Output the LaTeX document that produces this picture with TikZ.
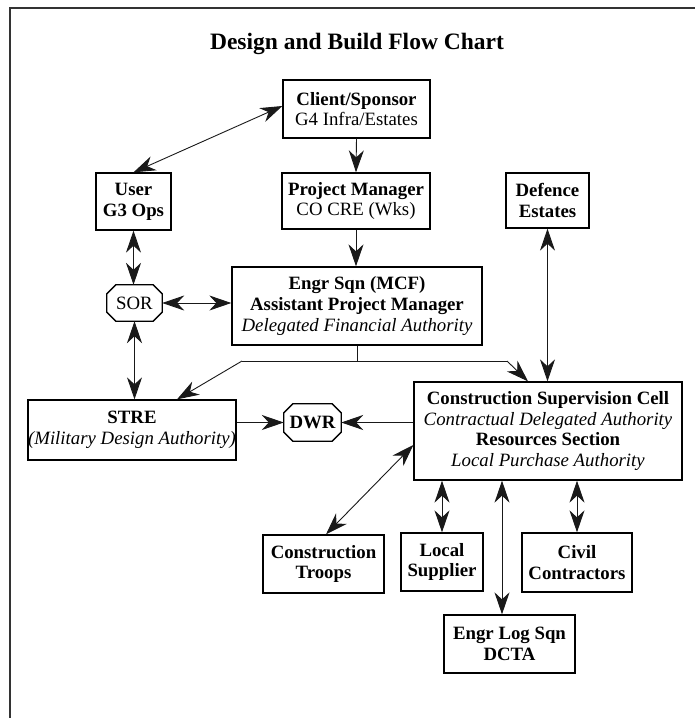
\documentclass[tikz,border=0pt]{standalone}
\usepackage{fontspec}
\setmainfont{Liberation Serif}
\usetikzlibrary{arrows.meta}
\newcommand\octframe[1]{%
  \draw[octline] ([xshift=9pt]#1.north west) -- ([xshift=-9pt]#1.north east)
    -- ([yshift=-9pt]#1.north east) -- ([yshift=9pt]#1.south east)
    -- ([xshift=-9pt]#1.south east) -- ([xshift=9pt]#1.south west)
    -- ([yshift=9pt]#1.south west) -- ([yshift=-9pt]#1.north west) -- cycle;}
\begin{document}
\begin{tikzpicture}[x=1pt,y=-1pt,
  txt/.style={font=\fontsize{18.8}{20.8}\selectfont},
  box/.style={txt, draw=black, line width=1.3pt, align=center, inner sep=0pt},
  oct/.style={txt, inner sep=0pt},
  octline/.style={draw=black, line width=1.3pt},
  conn/.style={draw=black!90, line width=0.9pt},
  headtip/.tip={Stealth[length=22pt,width=15pt,inset=7pt]},
  arr/.style={conn, -headtip},
  darr/.style={conn, headtip-headtip},
  frame/.style={draw=black!80, line width=1.3pt}
]
\useasboundingbox (0,0) rectangle (695,718);
\draw[frame] (10,718) -- (10,8) -- (695,8);

\node[font=\bfseries\fontsize{23.5}{26}\selectfont] (title) at (357,44) {Design and Build Flow Chart};

\node[box, minimum width=147pt, minimum height=58pt] (client) at (356.5,109) {\textbf{Client/Sponsor}\\G4 Infra/Estates};
\node[box, minimum width=75pt, minimum height=57pt] (user) at (133.5,201.5) {\textbf{User}\\\textbf{G3 Ops}};
\node[box, minimum width=148pt, minimum height=56pt] (pm) at (356,201) {\textbf{Project Manager}\\CO CRE (Wks)};
\node[box, minimum width=83pt, minimum height=55pt] (def) at (547.5,200.5) {\textbf{Defence}\\\textbf{Estates}};
\node[oct, minimum width=55pt, minimum height=36pt] (sor) at (134.5,303) {SOR};
\octframe{sor}
\node[box, minimum width=250pt, minimum height=78pt] (engr) at (357,306) {\textbf{Engr Sqn (MCF)}\\\textbf{Assistant Project Manager}\\\textit{Delegated Financial Authority}};
\node[box, minimum width=208pt, minimum height=60pt] (stre) at (132,430) {\textbf{STRE}\\\textit{(Military Design Authority)}};
\node[oct, minimum width=57pt, minimum height=37pt, font=\bfseries\fontsize{18.8}{20.8}\selectfont] (dwr) at (312.5,422.5) {DWR};
\octframe{dwr}
\node[box, minimum width=268pt, minimum height=98pt] (csc) at (548,431) {\textbf{Construction Supervision Cell}\\\textit{Contractual Delegated Authority}\\\textbf{Resources Section}\\\textit{Local Purchase Authority}};
\node[box, minimum width=121pt, minimum height=58pt] (troops) at (323.5,564) {\textbf{Construction}\\\textbf{Troops}};
\node[box, minimum width=82pt, minimum height=58pt] (local) at (442,562) {\textbf{Local}\\\textbf{Supplier}};
\node[box, minimum width=110pt, minimum height=59pt] (civil) at (577,562.5) {\textbf{Civil}\\\textbf{Contractors}};
\node[box, minimum width=131pt, minimum height=58pt] (englog) at (509.5,644) {\textbf{Engr Log Sqn}\\\textbf{DCTA}};

% connectors
\draw[darr] ([yshift=3pt]client.west) -- (user.north);
\draw[arr] (client.south) -- (pm.north);
\draw[darr] (user.south) -- (user.south |- sor.north);
\draw[darr] (sor.east) -- (sor.east -| engr.west);
\draw[darr] (sor.south) -- (sor.south |- stre.north);
\draw[arr] (pm.south) -- (pm.south |- engr.north);
\coordinate (bl) at (242,361);
\coordinate (bR) at (507,361);
\draw[conn] (engr.south) -- (engr.south |- bl);
\draw[conn] (bl) -- (bR);
\draw[arr] (bl) -- ([xshift=45pt]stre.north);
\draw[arr] (bR) -- ([xshift=-20pt]csc.north);
\draw[darr] (def.south) -- (def.south |- csc.north);
\draw[arr] (stre.east |- dwr.west) -- (dwr.west);
\draw[arr] (csc.west |- dwr.east) -- (dwr.east);
\draw[darr] ([yshift=-14pt]csc.west) -- ([xshift=2.5pt]troops.north);
\draw[darr] (local.north |- csc.south) -- (local.north);
\coordinate (logtop) at ([xshift=-7.5pt]englog.north);
\draw[darr] (logtop |- csc.south) -- (logtop);
\draw[darr] (civil.north |- csc.south) -- (civil.north);
\end{tikzpicture}
\end{document}
